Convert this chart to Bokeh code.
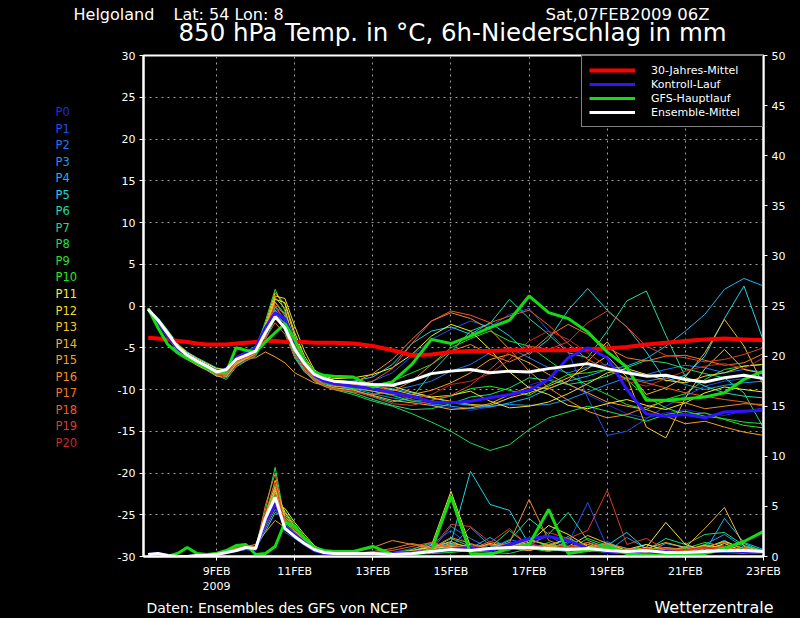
from bokeh.plotting import figure
from bokeh.models import Range1d, LinearAxis, FixedTicker, Label, Legend, LegendItem
from bokeh.layouts import column, row
from bokeh.embed import file_html
from bokeh.resources import INLINE

# time axis: days since 07FEB2009 00Z
T = [0.25, 0.5, 0.75, 1.0, 1.25, 1.5, 1.75, 2.0, 2.25, 2.5, 2.75, 3.0, 3.25, 3.5, 3.75, 4.0, 4.25, 4.5, 4.75, 5.0,
     5.5, 6.0, 6.5, 7.0, 7.5, 8.0, 8.5, 9.0, 9.5, 10.0, 10.5, 11.0, 11.5, 12.0, 12.5, 13.0, 13.5, 14.0, 14.5, 15.0, 15.5, 16.0]

MEMBER_NAMES = ["P%d" % i for i in range(21)]
MEMBER_COLORS = ["#2828dc", "#1e50f0", "#1e78f0", "#1e96f0", "#1eb4f0", "#1ed2e6", "#1edca0", "#1edc78",
                 "#1edc50", "#28dc32", "#28e61e", "#f0f028", "#f0dc28", "#f0c828", "#f0b428", "#f0a028",
                 "#f08c28", "#f07828", "#f05a28", "#dc3c28", "#c82828"]

TEMP_MEMBERS = [
    [-0.3,-1.6,-3.4,-5.0,-6.1,-6.8,-7.4,-8.1,-8.3,-6.6,-6.0,-5.5,-2.8,-0.4,-1.9,-5.3,-7.3,-8.6,-9.1,-9.4,
     -9.8,-10.2,-10.6,-11.2,-11.8,-12.2,-12.5,-12.1,-11.0,-9.5,-8.7,-9.3,-10.6,-11.8,-12.9,-13.4,-12.8,-12.4,-12.9,-13.1,-12.6,-12.2],
    [-0.4,-1.8,-3.1,-4.6,-5.7,-6.4,-7.0,-7.6,-8.0,-6.9,-6.2,-5.6,-3.0,-0.9,-1.3,-4.7,-7.0,-8.4,-9.0,-9.3,
     -9.5,-9.0,-8.0,-6.0,-4.0,-2.8,-1.8,-2.5,-1.0,-0.3,-3.0,-5.5,-11.0,-15.5,-15.0,-13.5,-12.0,-10.8,-9.6,-9.0,-8.7,-8.4],
    [-0.4,-1.5,-3.0,-4.7,-5.8,-6.5,-7.2,-7.8,-8.4,-7.1,-6.5,-5.9,-3.4,-0.2,-0.8,-4.0,-6.6,-8.0,-8.9,-9.2,
     -9.6,-10.0,-10.1,-9.6,-9.0,-7.8,-7.0,-5.6,-5.0,-6.2,-7.4,-8.0,-7.3,-7.0,-7.8,-8.2,-7.6,-7.1,-7.4,-8.0,-7.6,-7.9],
    [-0.3,-1.9,-3.5,-5.1,-6.0,-6.6,-7.1,-7.7,-7.9,-6.3,-5.8,-5.2,-2.4,-0.6,-2.2,-5.6,-7.4,-8.6,-9.2,-9.5,
     -9.9,-10.5,-11.0,-11.4,-11.7,-12.0,-12.3,-12.0,-11.8,-11.9,-11.8,-11.2,-10.3,-9.4,-8.6,-9.0,-8.6,-9.4,-10.0,-9.5,-9.2,-9.0],
    [-0.5,-1.7,-3.2,-4.9,-5.9,-6.7,-7.5,-8.2,-8.6,-7.0,-6.4,-5.7,-3.6,-1.2,-2.0,-4.9,-7.2,-8.5,-8.9,-9.1,
     -9.4,-9.6,-9.9,-10.4,-10.9,-11.6,-11.9,-12.1,-11.6,-11.0,-9.9,-9.0,-8.4,-7.6,-7.2,-6.3,-4.8,-3.0,-1.0,2.0,3.3,2.4],
    [-0.4,-1.4,-2.9,-4.5,-5.5,-6.2,-6.8,-7.4,-7.7,-6.1,-5.5,-4.8,-2.1,-0.8,-3.0,-6.2,-7.9,-8.8,-9.1,-9.0,
     -9.0,-8.5,-7.0,-4.5,-3.0,-2.5,-3.4,-2.0,-3.6,-5.8,-4.0,-0.5,2.1,-0.5,-2.5,-5.5,-9.0,-8.3,-6.0,-1.5,2.4,-4.2],
    [-0.3,-1.8,-3.6,-5.2,-6.2,-6.9,-7.4,-8.0,-8.2,-6.8,-6.1,-5.6,-3.3,-0.1,-1.7,-5.8,-7.6,-8.9,-9.5,-9.8,
     -10.0,-10.8,-11.5,-11.0,-8.0,-5.5,-3.0,-2.1,0.8,-1.5,-3.4,-5.6,-6.2,-3.0,0.6,1.8,-3.5,-8.5,-9.6,-10.4,-10.8,-11.0],
    [-0.4,-2.0,-3.7,-5.3,-6.3,-7.0,-7.6,-8.3,-8.8,-7.3,-6.6,-6.0,-4.0,-1.5,-2.4,-5.0,-7.1,-8.7,-9.4,-9.9,
     -10.4,-11.2,-11.9,-12.4,-12.3,-11.7,-10.9,-10.6,-9.8,-8.6,-8.9,-9.4,-9.0,-8.4,-7.4,-6.5,-6.8,-7.5,-8.1,-8.6,-10.4,-14.6],
    [-0.5,-1.6,-3.2,-4.8,-5.8,-6.5,-7.1,-7.8,-7.8,-6.5,-5.7,-5.0,-2.6,-0.7,-2.8,-6.0,-7.8,-9.0,-9.6,-10.0,
     -10.6,-11.4,-12.0,-12.9,-13.9,-15.0,-16.4,-17.3,-16.6,-14.8,-13.4,-12.7,-12.0,-12.6,-13.2,-13.8,-13.0,-12.6,-13.2,-13.5,-13.9,-14.1],
    [-0.4,-1.7,-3.3,-4.9,-5.9,-6.7,-7.3,-8.0,-8.1,-6.6,-6.0,-5.4,-1.8,2.0,-0.6,-4.4,-6.8,-8.3,-9.0,-9.2,
     -9.3,-9.5,-9.0,-8.0,-7.0,-5.0,-3.9,-3.0,-4.2,-4.8,-6.5,-8.2,-9.5,-10.6,-11.8,-12.4,-11.2,-10.5,-8.8,-7.6,-7.2,-7.0],
    [-0.3,-1.9,-3.4,-4.9,-6.0,-6.8,-7.5,-8.1,-8.4,-6.9,-6.3,-5.8,-3.1,0.5,-1.0,-4.5,-6.9,-8.5,-9.3,-9.6,
     -9.9,-10.2,-10.7,-11.4,-11.3,-10.8,-9.9,-9.6,-10.1,-10.7,-9.4,-8.2,-8.0,-7.6,-8.8,-10.9,-12.2,-13.0,-12.8,-13.6,-14.3,-14.6],
    [-0.4,-1.5,-3.0,-4.6,-5.6,-6.3,-6.9,-7.5,-7.6,-6.2,-5.6,-5.1,-3.0,0.8,0.4,-3.2,-6.0,-7.8,-8.4,-8.7,
     -8.6,-8.2,-7.4,-5.8,-3.6,-2.2,-3.0,-5.2,-7.9,-9.8,-10.6,-11.9,-12.3,-11.7,-11.2,-11.9,-12.4,-11.6,-10.4,-9.7,-10.0,-10.3],
    [-0.5,-1.6,-3.1,-4.8,-5.8,-6.5,-7.1,-7.7,-7.9,-6.5,-5.9,-5.3,-2.5,1.2,0.9,-2.4,-5.4,-7.6,-8.5,-8.9,
     -9.1,-9.3,-9.6,-10.3,-10.9,-10.7,-10.2,-11.4,-12.2,-12.0,-11.5,-10.5,-9.3,-8.0,-7.5,-8.2,-8.9,-9.2,-8.4,-8.0,-7.2,-7.0],
    [-0.4,-1.8,-3.4,-5.0,-6.0,-6.7,-7.3,-7.9,-8.1,-6.7,-6.1,-5.5,-2.2,1.6,0.2,-3.6,-6.3,-8.2,-8.9,-9.2,
     -9.4,-9.7,-10.0,-10.6,-11.0,-11.4,-11.8,-11.9,-11.0,-10.4,-9.6,-8.6,-7.5,-6.0,-8.5,-14.5,-15.8,-11.0,-7.5,-5.2,-7.6,-8.1],
    [-0.3,-2.1,-3.8,-5.4,-6.4,-7.1,-7.7,-8.4,-8.5,-7.0,-6.3,-5.7,-2.9,1.0,-0.3,-4.6,-7.2,-8.8,-9.5,-9.8,
     -10.1,-10.7,-11.3,-11.6,-11.9,-12.4,-12.2,-11.7,-10.6,-9.7,-9.9,-9.0,-6.6,-4.3,-7.6,-10.6,-9.8,-8.5,-5.6,-1.6,-4.8,-9.5],
    [-0.4,-1.9,-3.5,-5.2,-6.2,-6.9,-7.5,-8.2,-8.0,-6.8,-6.3,-6.2,-5.5,-6.1,-6.8,-8.0,-8.6,-9.2,-9.5,-9.6,
     -9.7,-10.2,-10.6,-10.6,-10.1,-9.2,-8.0,-6.4,-5.8,-6.8,-8.2,-9.4,-10.4,-11.5,-12.0,-12.4,-13.2,-14.1,-13.8,-14.5,-15.1,-15.5],
    [-0.4,-1.7,-3.3,-5.0,-6.0,-6.8,-7.4,-8.0,-8.2,-6.6,-6.0,-5.6,-3.7,-0.5,-1.6,-4.8,-7.0,-8.4,-8.9,-9.1,
     -9.2,-8.1,-6.4,-4.0,-1.8,-0.8,-1.5,-2.8,-5.2,-7.8,-9.8,-11.3,-12.6,-13.4,-13.0,-12.1,-11.4,-11.6,-12.3,-12.0,-11.7,-11.8],
    [-0.3,-1.6,-3.2,-4.9,-5.9,-6.6,-7.2,-7.8,-8.0,-6.7,-6.2,-5.7,-3.2,0.4,-1.2,-5.1,-7.5,-8.9,-9.6,-10.0,
     -10.3,-10.6,-10.2,-9.0,-7.0,-5.4,-4.6,-5.8,-6.7,-5.6,-3.6,-2.2,-3.4,-5.0,-6.2,-6.6,-6.0,-5.9,-6.5,-7.1,-6.8,-5.7],
    [-0.4,-1.8,-3.5,-5.1,-6.1,-6.8,-7.4,-8.1,-8.3,-6.5,-5.9,-5.3,-3.9,-2.0,-3.4,-6.1,-7.7,-8.7,-9.2,-9.4,
     -9.5,-9.0,-7.5,-4.5,-1.8,-0.6,-1.1,-2.0,-1.2,-0.5,-2.3,-4.5,-6.4,-7.6,-8.7,-9.2,-9.8,-10.4,-10.8,-11.2,-11.5,-12.0],
    [-0.5,-2.0,-3.6,-5.2,-6.2,-6.9,-7.5,-8.2,-8.6,-7.2,-6.5,-5.9,-2.7,0.1,-1.8,-5.4,-7.4,-8.8,-9.5,-9.9,
     -10.2,-10.9,-11.7,-11.9,-11.3,-10.7,-9.5,-7.6,-5.5,-4.8,-5.2,-4.3,-2.0,-0.6,-2.5,-4.8,-5.9,-6.2,-6.7,-6.4,-5.8,-5.0],
    [-0.4,-1.7,-3.2,-4.8,-5.8,-6.6,-7.2,-7.9,-8.0,-6.6,-6.1,-5.6,-3.5,-1.0,-2.5,-5.5,-7.3,-8.5,-9.0,-9.3,
     -9.0,-9.4,-10.3,-11.2,-10.6,-9.4,-9.0,-8.1,-6.4,-4.2,-3.0,-4.0,-5.6,-7.3,-9.0,-9.6,-8.7,-7.8,-7.2,-6.9,-7.5,-6.2],
]

PREC_MEMBERS = [
    [0.2,0.2,0.1,0,0,0.1,0.1,0.2,0.4,0.6,0.8,0.7,3.0,5.6,2.6,1.9,1.2,0.6,0.3,0.2,
     0.2,0.3,0.2,0.2,0.4,0.5,0.9,0.6,1.0,1.4,0.8,0.5,0.9,0.4,0.3,0.5,0.2,0.3,0.4,0.6,0.5,0.4],
    [0.3,0.2,0.1,0,0,0.1,0.2,0.3,0.5,0.7,0.9,0.6,4.2,6.3,2.4,1.8,1.1,0.5,0.3,0.2,
     0.3,0.2,0.4,0.8,1.2,2.6,1.0,0.7,1.4,1.2,0.6,1.3,5.4,0.9,0.4,0.3,0.2,0.5,0.8,1.1,0.6,0.3],
    [0.2,0.3,0.1,0,0,0,0.1,0.2,0.4,0.5,0.8,0.9,3.6,5.1,3.1,2.2,1.5,0.7,0.4,0.2,
     0.1,0.2,0.1,0.3,0.6,3.0,1.8,0.8,1.7,1.2,2.1,0.9,0.6,1.5,0.5,0.3,0.1,0.2,0.7,0.4,0.3,0.6],
    [0.1,0.2,0.1,0,0,0.1,0.1,0.2,0.3,0.6,0.7,0.8,2.8,4.7,3.6,2.5,1.6,0.8,0.4,0.3,
     0.2,0.4,0.3,0.5,1.3,0.9,2.9,1.1,0.6,1.8,1.0,0.7,1.2,0.5,1.9,0.8,0.6,0.4,1.2,2.2,0.9,0.5],
    [0.2,0.2,0.1,0,0,0.1,0.1,0.3,0.4,0.6,0.7,0.6,3.2,5.4,3.0,2.1,1.4,0.6,0.3,0.2,
     0.3,0.2,0.2,0.3,0.5,1.2,0.8,1.9,0.7,1.0,0.6,1.5,0.8,1.2,0.6,0.4,1.3,0.9,0.5,3.8,1.4,0.7],
    [0.3,0.3,0.1,0,0,0,0.1,0.2,0.5,0.7,0.9,0.8,2.5,4.4,3.9,2.8,1.7,0.9,0.5,0.3,
     0.4,0.3,0.2,0.6,0.9,1.4,8.5,5.2,4.6,1.2,0.8,2.0,0.6,1.1,2.4,0.7,0.5,1.0,0.8,1.6,0.6,0.4],
    [0.2,0.2,0.1,0,0,0.1,0.1,0.2,0.4,0.6,0.8,0.7,3.9,6.8,3.3,2.3,1.4,0.6,0.3,0.2,
     0.2,0.2,0.3,0.4,0.7,1.8,1.0,0.7,1.6,3.8,2.2,4.4,1.6,0.9,0.5,1.2,0.7,0.4,0.6,0.9,1.3,0.5],
    [0.1,0.2,0.1,0,0,0.1,0.2,0.3,0.5,0.6,0.8,0.8,3.4,5.8,4.2,2.9,1.8,0.9,0.5,0.3,
     0.3,0.3,0.2,0.5,0.8,1.1,0.6,0.9,2.6,1.0,0.7,0.5,0.9,1.3,0.8,0.6,1.8,1.2,2.2,2.4,1.1,0.6],
    [0.2,0.3,0.1,0,0,0,0.1,0.2,0.4,0.6,0.8,0.7,4.6,8.9,3.5,2.4,1.3,0.6,0.3,0.2,
     0.2,0.2,0.1,0.2,0.3,0.4,0.6,0.4,0.3,0.8,0.5,0.9,0.6,0.4,0.3,0.5,0.4,0.2,0.3,0.5,0.4,0.3],
    [0.2,0.2,0.1,0,0,0.1,0.1,0.3,0.5,0.7,0.9,0.9,3.1,6.1,4.5,3.2,2.0,1.0,0.5,0.3,
     0.3,0.4,0.3,0.7,1.4,0.8,1.2,0.6,0.9,1.6,1.2,0.7,1.8,1.1,0.6,0.9,0.5,0.8,1.4,1.0,0.7,0.6],
    [0.3,0.2,0.1,0,0,0.1,0.1,0.2,0.4,0.5,0.7,0.8,3.7,7.2,3.8,2.6,1.6,0.7,0.4,0.2,
     0.2,0.3,0.2,0.3,0.6,0.9,0.5,0.8,1.1,0.7,1.4,0.6,1.0,0.5,0.4,0.7,0.9,0.6,1.2,0.8,0.5,0.4],
    [0.2,0.2,0.1,0,0,0.1,0.2,0.3,0.5,0.7,0.9,0.8,3.3,5.2,4.8,3.4,2.2,1.1,0.5,0.3,
     0.3,0.2,0.3,0.5,1.1,6.5,1.0,0.6,0.9,1.4,3.1,2.2,1.0,0.7,0.5,0.9,3.4,1.2,0.6,1.3,0.5,0.4],
    [0.1,0.2,0.1,0,0,0.1,0.1,0.2,0.4,0.6,0.8,0.7,3.6,6.6,4.4,3.0,1.9,0.9,0.4,0.2,
     0.2,0.2,0.2,0.4,0.8,1.0,0.7,1.3,0.9,0.6,1.1,1.8,0.8,0.5,0.7,1.2,0.6,0.4,0.9,1.5,0.8,0.3],
    [0.2,0.3,0.1,0,0,0,0.1,0.2,0.4,0.6,0.8,0.9,4.0,7.6,4.0,2.8,1.7,0.8,0.4,0.2,
     0.2,0.3,0.3,0.6,0.9,1.5,0.8,0.5,1.2,0.9,0.6,1.0,2.1,1.3,0.6,0.8,0.5,0.7,1.1,0.9,0.6,0.4],
    [0.2,0.2,0.1,0,0,0.1,0.1,0.3,0.5,0.8,1.0,0.9,4.3,7.0,3.6,2.6,1.5,0.7,0.3,0.2,
     0.3,0.3,0.2,0.4,0.7,1.3,1.0,0.7,0.9,1.7,1.1,0.8,1.4,0.6,0.5,0.8,1.4,0.9,2.8,4.9,1.0,0.5],
    [0.3,0.3,0.2,0,0,0.1,0.2,0.3,0.6,0.8,1.0,1.2,2.4,3.6,2.9,2.4,1.6,0.9,0.5,0.3,
     0.3,0.2,0.2,0.3,0.5,0.7,0.9,1.2,0.8,0.6,1.0,0.7,0.5,0.8,0.6,0.4,0.7,0.5,0.6,0.8,0.6,0.5],
    [0.2,0.2,0.1,0,0,0.1,0.1,0.2,0.4,0.6,0.8,0.8,3.8,6.4,3.4,2.7,1.6,0.8,0.4,0.2,
     0.4,0.9,1.6,1.2,0.8,1.9,1.3,0.7,1.4,5.7,1.6,0.9,1.2,0.7,0.5,0.8,0.6,0.9,0.6,0.8,0.5,0.4],
    [0.2,0.2,0.1,0,0,0.1,0.1,0.3,0.5,0.7,0.9,0.7,5.1,8.3,3.1,2.2,1.4,0.7,0.3,0.2,
     0.3,0.5,0.8,1.3,0.9,1.1,0.7,1.5,1.0,0.8,1.2,0.9,0.7,1.3,0.8,0.6,0.9,0.7,1.0,1.4,0.8,0.5],
    [0.3,0.2,0.1,0,0,0.1,0.2,0.4,0.6,0.9,1.1,1.0,3.5,5.5,3.7,2.5,1.5,0.7,0.4,0.2,
     0.3,0.4,0.6,1.0,1.4,0.9,0.6,1.2,0.8,1.1,0.7,1.0,1.4,0.9,0.6,0.5,0.8,0.6,0.9,0.7,0.5,0.4],
    [0.2,0.3,0.1,0,0,0.1,0.1,0.3,0.5,0.7,0.8,0.7,4.4,7.4,3.2,2.3,1.5,0.7,0.3,0.2,
     0.2,0.3,0.4,0.5,0.8,3.2,3.0,1.4,2.8,1.0,2.4,1.8,2.6,6.6,1.2,1.8,0.7,0.5,0.8,1.0,0.6,0.4],
    [0.2,0.2,0.1,0,0,0.1,0.1,0.2,0.4,0.6,0.8,0.8,3.0,5.0,3.9,2.7,1.7,0.8,0.4,0.3,
     0.2,0.3,0.2,0.4,0.6,0.8,1.1,0.7,0.9,1.3,0.8,1.1,0.7,0.9,0.6,0.8,0.5,0.7,0.9,0.6,0.4,0.3],
]

TEMP_CLIM = [-3.8,-3.9,-4.0,-4.2,-4.3,-4.5,-4.6,-4.6,-4.6,-4.5,-4.4,-4.3,-4.2,-4.2,-4.3,-4.3,-4.3,-4.4,-4.4,-4.4,
             -4.5,-4.8,-5.3,-5.9,-5.8,-5.5,-5.4,-5.4,-5.3,-5.3,-5.3,-5.3,-5.2,-5.1,-4.9,-4.6,-4.4,-4.2,-4.0,-3.9,-4.0,-4.1]
TEMP_CTRL = [-0.4,-1.9,-3.6,-5.1,-6.0,-6.7,-7.3,-8.0,-7.5,-6.2,-5.6,-5.0,-2.6,-0.8,-1.5,-4.2,-6.5,-8.3,-9.0,-9.3,
             -9.6,-9.9,-10.4,-10.8,-11.5,-11.6,-11.4,-11.0,-10.6,-10.1,-8.8,-6.2,-5.0,-6.2,-10.0,-12.9,-13.2,-13.0,-13.4,-12.7,-12.6,-12.5]
TEMP_GFS = [-0.3,-2.6,-4.6,-5.6,-6.3,-6.8,-7.4,-8.0,-7.9,-5.0,-5.3,-5.5,-4.3,-3.2,-2.1,-4.0,-6.6,-7.9,-8.3,-8.4,
            -8.5,-9.7,-9.1,-7.0,-4.0,-4.5,-3.6,-2.6,-1.7,1.2,-0.8,-1.5,-3.1,-5.5,-7.3,-11.3,-11.3,-11.1,-10.9,-10.4,-8.8,-7.8]
TEMP_MEAN = [-0.4,-1.7,-3.3,-4.9,-5.9,-6.6,-7.2,-7.9,-7.6,-6.4,-5.9,-5.4,-3.2,-1.3,-2.6,-5.2,-6.9,-8.2,-8.7,-9.0,
             -9.2,-9.4,-9.5,-8.9,-8.1,-7.8,-7.6,-8.0,-7.8,-7.9,-7.5,-7.2,-6.9,-7.5,-8.0,-8.4,-8.3,-8.8,-9.1,-8.6,-8.3,-8.7]

PREC_CTRL = [0.2,0.3,0.1,0,0,0.1,0.1,0.2,0.4,0.6,0.8,0.7,3.5,5.3,3.0,2.2,1.4,0.6,0.3,0.2,
             0.2,0.2,0.3,0.4,0.5,0.7,0.9,0.6,1.2,1.8,2.0,1.6,0.8,0.5,0.4,0.6,0.5,0.3,0.4,0.6,0.5,0.4]
PREC_GFS = [0.1,0.0,0.0,0.3,0.9,0.3,0.2,0.3,0.6,1.1,1.2,0.2,0.3,1.0,3.4,3.0,1.8,0.9,0.6,0.5,
            0.5,1.0,0.2,0.2,0.6,6.0,0.3,0.2,0.8,1.2,4.7,0.3,0.6,1.0,0.3,0.1,0.1,0.1,0.3,0.8,1.5,2.5]
PREC_MEAN = [0.2,0.3,0.1,0.0,0.0,0.1,0.1,0.2,0.4,0.6,0.9,0.8,3.8,5.9,2.8,2.0,1.3,0.7,0.4,0.3,
             0.3,0.3,0.2,0.3,0.5,0.7,0.6,0.8,0.9,0.9,0.8,0.7,0.8,0.6,0.5,0.6,0.4,0.4,0.5,0.6,0.6,0.5]

X_TICKS = [2, 4, 6, 8, 10, 12, 14, 16]
X_LABELS = ["9FEB\n2009", "11FEB", "13FEB", "15FEB", "17FEB", "19FEB", "21FEB", "23FEB"]
Y_TICKS = [-30, -25, -20, -15, -10, -5, 0, 5, 10, 15, 20, 25, 30]
Y_LABELS = ["-30", "-25", "-20", "-15", "-10", "-5", "0", "5", "10", "15", "20", "25", "30"]
P_TICKS = [0, 5, 10, 15, 20, 25, 30, 35, 40, 45, 50]

FONT = "DejaVu Sans"
X0, X1 = 0.13, 16.0
W, H = 800, 618
TOP_H = 48        # page rows 0..48: header
MID_BOTTOM = 596  # page rows 48..596: chart row
LEFT_W = 103      # page columns 0..103: member names


def blank(width, height, x0, x1, y0, y1):
    f = figure(width=width, height=height, output_backend="svg", toolbar_location=None,
               x_range=Range1d(x0, x1), y_range=Range1d(y1, y0),
               x_axis_type=None, y_axis_type=None, min_border=0,
               background_fill_color="black", border_fill_color="black", outline_line_color=None)
    return f


def put(f, txt, px, py, size, color="white", align="left"):
    f.add_layout(Label(x=px, y=py, text=txt, text_color=color, text_font=FONT,
                       text_font_size=size, text_align=align, text_baseline="middle"))


# header
top = blank(W, TOP_H, 0, W, 0, TOP_H)
put(top, "Helgoland", 73, 14, "16px")
put(top, "Lat: 54 Lon: 8", 173, 14, "16px")
put(top, "Sat,07FEB2009 06Z", 545, 14, "16.5px")
put(top, "850 hPa Temp. in \u00b0C, 6h-Niederschlag in mm", 178, 32, "24.5px")

# member names
left = blank(LEFT_W, MID_BOTTOM - TOP_H, 0, LEFT_W, TOP_H, MID_BOTTOM)
for i, name in enumerate(MEMBER_NAMES):
    put(left, name, 55, 110 + 18.08 * i, "11.5px", color=MEMBER_COLORS[i])

# footer
bottom = blank(W, H - MID_BOTTOM, 0, W, MID_BOTTOM, H)
put(bottom, "Daten: Ensembles des GFS von NCEP", 146, 607, "14px")
put(bottom, "Wetterzentrale", 773, 607, "16px", align="right")

# main chart: frame spans page columns 143..763 and rows 55..563
p = figure(width=W - LEFT_W, height=MID_BOTTOM - TOP_H, output_backend="svg", toolbar_location=None,
           x_range=Range1d(X0, X1), y_range=Range1d(-30, 30),
           background_fill_color="black", border_fill_color="black",
           min_border_left=143 - LEFT_W, min_border_right=W - 763,
           min_border_top=55 - TOP_H, min_border_bottom=MID_BOTTOM - 563)
p.extra_y_ranges = {"pr": Range1d(0, 50)}

right = LinearAxis(y_range_name="pr", ticker=FixedTicker(ticks=P_TICKS))
p.add_layout(right, "right")

p.xaxis.ticker = FixedTicker(ticks=X_TICKS)
p.xaxis.major_label_overrides = {t: l for t, l in zip(X_TICKS, X_LABELS)}
p.yaxis[0].ticker = FixedTicker(ticks=Y_TICKS)
p.yaxis[0].major_label_overrides = {t: l for t, l in zip(Y_TICKS, Y_LABELS)}

for ax in [p.xaxis[0], p.yaxis[0], right]:
    ax.axis_line_color = "white"
    ax.axis_line_width = 2
    ax.major_tick_line_color = "white"
    ax.major_tick_line_width = 1
    ax.major_tick_out = 4
    ax.major_tick_in = 0
    ax.minor_tick_line_color = None
    ax.major_label_text_color = "white"
    ax.major_label_text_font = FONT
    ax.major_label_text_font_size = "11px"
    ax.major_label_standoff = 4

p.outline_line_color = "white"
p.outline_line_width = 2
for g in [p.xgrid[0], p.ygrid[0]]:
    g.grid_line_color = "#a0a0a0"
    g.grid_line_dash = "2 4"
    g.grid_line_width = 1

for i in range(21):
    p.line(T, TEMP_MEMBERS[i], line_color=MEMBER_COLORS[i], line_width=1)
for i in range(21):
    p.line(T, PREC_MEMBERS[i], line_color=MEMBER_COLORS[i], line_width=1, y_range_name="pr")

r_clim = p.line(T, TEMP_CLIM, line_color="#ff0000", line_width=4)
r_ctrl = p.line(T, TEMP_CTRL, line_color="#3014ff", line_width=3)
p.line(T, PREC_CTRL, line_color="#3014ff", line_width=3, y_range_name="pr")
r_gfs = p.line(T, TEMP_GFS, line_color="#14dc14", line_width=3)
p.line(T, PREC_GFS, line_color="#14dc14", line_width=3, y_range_name="pr")
r_mean = p.line(T, TEMP_MEAN, line_color="white", line_width=3)
p.line(T, PREC_MEAN, line_color="white", line_width=3, y_range_name="pr")

legend = Legend(items=[LegendItem(label="30-Jahres-Mittel", renderers=[r_clim]),
                       LegendItem(label="Kontroll-Lauf", renderers=[r_ctrl]),
                       LegendItem(label="GFS-Hauptlauf", renderers=[r_gfs]),
                       LegendItem(label="Ensemble-Mittel", renderers=[r_mean])],
                location="top_right")
legend.margin = 0
legend.padding = 7
legend.spacing = 0
legend.glyph_width = 46
legend.glyph_height = 14
legend.label_height = 14
legend.label_width = 104
legend.label_standoff = 16
legend.background_fill_color = "black"
legend.background_fill_alpha = 1
legend.border_line_color = "white"
legend.border_line_width = 1
legend.label_text_color = "white"
legend.label_text_font = FONT
legend.label_text_font_size = "11px"
p.add_layout(legend)

layout = column(top, row(left, p), bottom)

html = file_html(layout, INLINE, "Ensembles")
html = html.replace("<body>", '<body style="background-color:black;">')
open("out.html", "w").write(html)
